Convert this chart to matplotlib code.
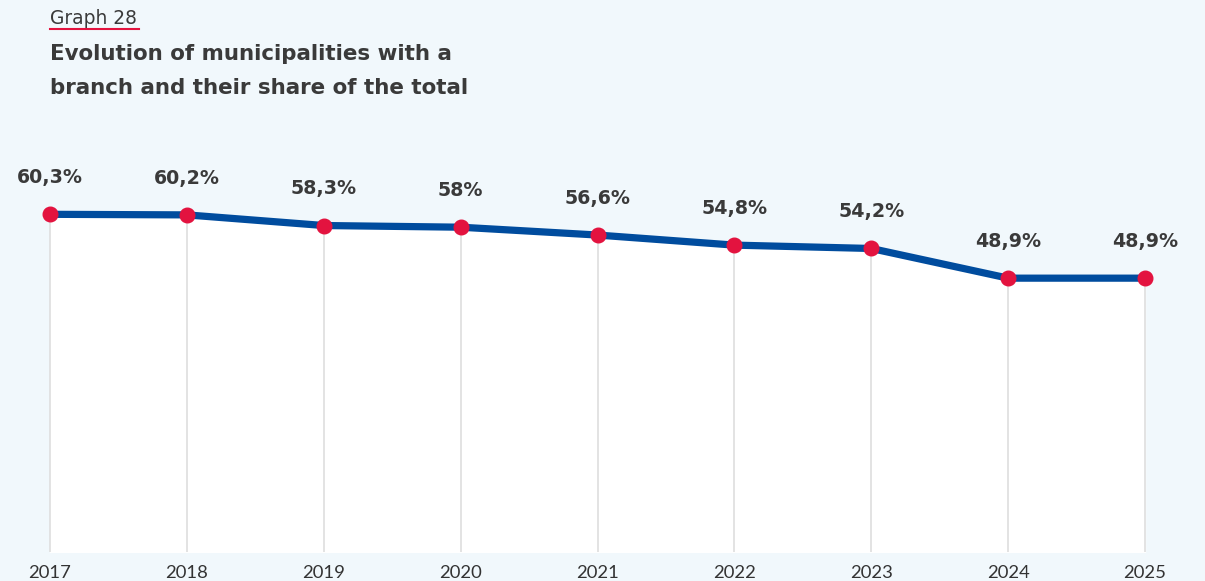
import matplotlib
matplotlib.use("Agg")
import matplotlib.pyplot as plt
from matplotlib.lines import Line2D

years = [2017, 2018, 2019, 2020, 2021, 2022, 2023, 2024, 2025]
share = [60.3, 60.2, 58.3, 58.0, 56.6, 54.8, 54.2, 48.9, 48.9]
labels = ["60,3%", "60,2%", "58,3%", "58%", "56,6%", "54,8%", "54,2%", "48,9%", "48,9%"]

BG = "#F1F8FC"
LINE = "#004C9E"
DOT = "#E3133F"
TXT = "#3A3A3A"

plt.rcParams['font.family'] = ['DejaVu Sans']

W, H = 1205, 581
fig = plt.figure(figsize=(W / 100, H / 100), dpi=100, facecolor=BG)

# axes: 0 at y=552px, ~5.6 px per %
bottom = (H - 552) / H
ymax = 70
height = ymax * 5.6 / H
ax = fig.add_axes([0, bottom, 1, height])
ax.set_facecolor(BG)
step = (1145 - 50) / 8
ax.set_xlim(2017 - 50 / step, 2017 + (W - 50) / step)
ax.set_ylim(0, ymax)
for s in ax.spines.values():
    s.set_visible(False)
ax.set_yticks([])
ax.set_xticks(years)
ax.set_xticklabels([str(y) for y in years], fontsize=13.3, color="#333333", family='Lato')
ax.tick_params(axis='x', length=0, pad=9)

ax.fill_between(years, 0, share, color="white", zorder=1)
ax.vlines(years, 0, share, color="#DEDEDE", lw=1.2, zorder=2)
ax.plot(years, share, color=LINE, lw=5.2, zorder=3, solid_capstyle='butt', solid_joinstyle='round')
ax.plot(years, share, 'o', color=DOT, markersize=10.5, zorder=4)
for x, y, l in zip(years, share, labels):
    ax.annotate(l, (x, y), xytext=(0, 26.5), textcoords='offset points',
                ha='center', va='center', fontsize=13.7, fontweight='bold', color=TXT)

# headings
fig.text(50 / W, 1 - 18 / H, "Graph 28", ha='left', va='center', fontsize=13.4, color=TXT)
fig.add_artist(Line2D([50 / W, 139 / W], [1 - 29 / H, 1 - 29 / H], color=DOT, lw=1.5,
                      transform=fig.transFigure))
fig.text(50 / W, 1 - 54 / H, "Evolution of municipalities with a", ha='left', va='center',
         fontsize=15.4, fontweight='bold', color=TXT)
fig.text(50 / W, 1 - 88 / H, "branch and their share of the total", ha='left', va='center',
         fontsize=15.4, fontweight='bold', color=TXT)

fig.savefig("out.png", dpi=100, facecolor=BG)
